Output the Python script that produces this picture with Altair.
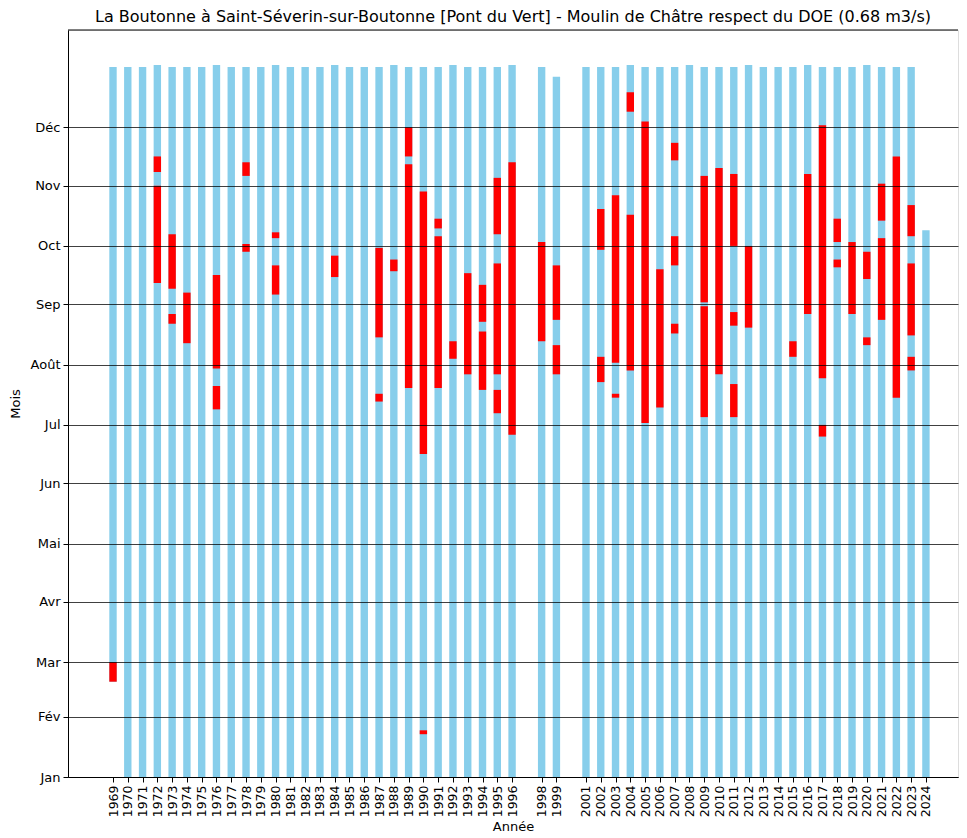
import altair as alt
import pandas as pd

# ---- data ----
years = list(range(1969, 1997)) + [1998, 1999] + list(range(2001, 2025))
leap = {1972, 1976, 1980, 1984, 1988, 1992, 1996, 2004, 2008, 2012, 2016, 2020}
bar_start = [49] + [0] * (len(years) - 1)
bar_end = []
for y in years:
    if y == 1999:
        bar_end.append(360)
    elif y == 2024:
        bar_end.append(281)
    elif y in leap:
        bar_end.append(366)
    else:
        bar_end.append(365)

red_year = [1969, 1972, 1972, 1973, 1973, 1974, 1976, 1976, 1978, 1978,
            1980, 1980, 1984, 1987, 1987, 1988, 1989, 1989, 1990, 1990,
            1991, 1991, 1992, 1993, 1994, 1994, 1995, 1995, 1995, 1996,
            1998, 1999, 1999, 2002, 2002, 2003, 2003, 2004, 2004, 2005,
            2006, 2007, 2007, 2007, 2009, 2009, 2010, 2011, 2011, 2011,
            2012, 2015, 2016, 2017, 2017, 2018, 2018, 2019, 2020, 2020,
            2021, 2021, 2022, 2023, 2023, 2023]
red_start = [49, 311, 254, 251, 233, 223, 210, 189, 309, 270,
             277, 248, 257, 226, 193, 260, 319, 200, 22, 166,
             282, 200, 215, 207, 234, 199, 279, 207, 187, 176,
             224, 235, 207, 271, 203, 213, 195, 342, 209, 182,
             190, 317, 263, 228, 244, 185, 207, 273, 232, 185,
             231, 216, 238, 205, 175, 275, 262, 238, 256, 222,
             286, 235, 195, 278, 227, 209]
red_end = [59, 319, 304, 279, 238, 249, 258, 201, 316, 274,
           280, 263, 268, 272, 197, 266, 334, 315, 24, 301,
           287, 278, 224, 259, 253, 229, 308, 264, 199, 316,
           275, 263, 222, 292, 216, 299, 197, 352, 289, 337,
           261, 326, 278, 233, 309, 242, 313, 310, 239, 202,
           273, 224, 310, 335, 181, 287, 266, 275, 270, 226,
           305, 277, 319, 294, 264, 216]

month_days = [0, 31, 59, 90, 120, 151, 181, 212, 243, 273, 304, 334]
month_names = ["Jan", "Fév", "Mar", "Avr", "Mai", "Jun", "Jul", "Août",
               "Sep", "Oct", "Nov", "Déc"]

bars = pd.DataFrame({"year": years, "start": bar_start, "end": bar_end})
reds = pd.DataFrame({"year": red_year, "start": red_start, "end": red_end})

W, H = 890, 747
FONT = "DejaVu Sans"

xscale = alt.Scale(domain=[1965.955, 2026.17], nice=False, zero=False)
yscale = alt.Scale(domain=[0, 384], nice=False, zero=False)

label_expr = ("[" + ",".join("'%s'" % m for m in month_names) + "][indexof(["
              + ",".join(str(d) for d in month_days) + "], datum.value)]")

xaxis = alt.Axis(values=years, tickCount=200, format="d",
                 labelAngle=270,
                 title="Année", grid=False, tickSize=5,
                 labelFontSize=12.5, titleFontSize=13,
                 domainColor="black", tickColor="black",
                 labelColor="black", titleColor="black",
                 labelPadding=3, titlePadding=4,
                 labelOverlap=False)
yaxis = alt.Axis(values=month_days, tickCount=50,
                 labelExpr=label_expr,
                 title="Mois", grid=True, gridColor="black",
                 gridOpacity=0.75, gridWidth=1.2, zindex=1,
                 tickSize=5, labelFontSize=13, titleFontSize=13,
                 domainColor="black", tickColor="black",
                 labelColor="black", titleColor="black",
                 labelPadding=3, titlePadding=8,
                 labelOverlap=False)

blue = alt.Chart(bars).transform_calculate(
    x1="datum.year - 0.25", x2="datum.year + 0.25"
).mark_bar(color="#87CEEB").encode(
    x=alt.X("x1:Q", scale=xscale, axis=xaxis),
    x2="x2:Q",
    y=alt.Y("start:Q", scale=yscale, axis=yaxis),
    y2="end:Q",
)

red = alt.Chart(reds).transform_calculate(
    x1="datum.year - 0.25", x2="datum.year + 0.25"
).mark_bar(color="#FF0000").encode(
    x=alt.X("x1:Q", scale=xscale, axis=xaxis),
    x2="x2:Q",
    y=alt.Y("start:Q", scale=yscale, axis=yaxis),
    y2="end:Q",
)

top = alt.Chart(pd.DataFrame({"a": [0]})).mark_rule(
    color="black", strokeWidth=1
).encode(x=alt.value(0), x2=alt.value(W), y=alt.value(0))

chart = alt.layer(blue, red, top).properties(
    width=W, height=H,
    title=alt.TitleParams(
        "La Boutonne à Saint-Séverin-sur-Boutonne [Pont du Vert] - Moulin de Châtre respect du DOE (0.68 m3/s)",
        fontSize=16, font=FONT, fontWeight="normal", color="black",
        anchor="middle", offset=5),
    padding={"left": 1, "top": 0, "right": 0, "bottom": 5},
).configure_view(stroke=None).configure(font=FONT).configure_axis(
    labelFont=FONT, titleFont=FONT, titleFontWeight="normal"
)

chart.save("out.html", embed_options={"renderer": "svg", "actions": False})
